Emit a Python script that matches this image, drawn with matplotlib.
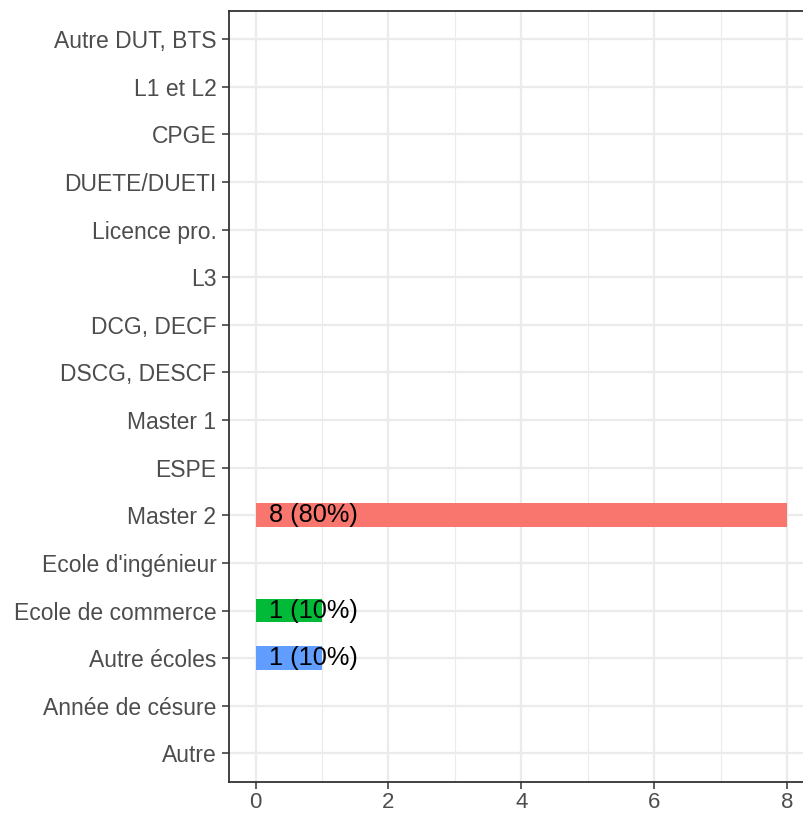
import matplotlib
matplotlib.use("Agg")
import matplotlib.pyplot as plt
import numpy as np

plt.rcParams['font.family'] = ['Liberation Sans', 'DejaVu Sans']

# categories from top to bottom
categories = ["Autre DUT, BTS", "L1 et L2", "CPGE", "DUETE/DUETI", "Licence pro.",
              "L3", "DCG, DECF", "DSCG, DESCF", "Master 1", "ESPE", "Master 2",
              "Ecole d'ingénieur", "Ecole de commerce", "Autre écoles",
              "Année de césure", "Autre"]
counts = [0, 0, 0, 0, 0, 0, 0, 0, 0, 0, 8, 0, 1, 1, 0, 0]
labels = ["", "", "", "", "", "", "", "", "", "", "8 (80%)", "", "1 (10%)", "1 (10%)", "", ""]
bar_colors = {"Master 2": "#F8766D", "Ecole de commerce": "#00BA38", "Autre écoles": "#619CFF"}

fig = plt.figure(figsize=(8.04, 8.14), dpi=100)
W, H = 804, 814
ax = fig.add_axes([229 / W, 1 - 782 / H, (813.6 - 229) / W, (782 - 10.5) / H])

n = len(categories)
ypos = np.arange(n)[::-1]

ax.set_xlim(-0.4, 8.4)
ax.set_ylim(-0.6, n - 1 + 0.6)

# grid
for x in np.arange(0, 9, 2):
    ax.axvline(x, color="#EBEBEB", lw=1.6, zorder=0)
for x in np.arange(1, 9, 2):
    ax.axvline(x, color="#EBEBEB", lw=0.8, zorder=0)
for y in ypos:
    ax.axhline(y, color="#EBEBEB", lw=1.6, zorder=0)

for cat, c, lab, y in zip(categories, counts, labels, ypos):
    if c > 0:
        ax.barh(y, c, height=0.5, color=bar_colors[cat], zorder=2)
        ax.text(0.2, y, lab, ha="left", va="center", fontsize=18.3, color="black", zorder=3)

ax.set_yticks(ypos)
ax.set_yticklabels(categories)
ax.set_xticks(np.arange(0, 9, 2))
ax.tick_params(axis="both", colors="#333333", labelcolor="#4D4D4D", labelsize=16.5,
               length=5, width=1.1)
ax.tick_params(axis="y", pad=4)
ax.tick_params(axis="x", pad=2, labelsize=16)

for side in ["left", "bottom", "top"]:
    ax.spines[side].set_color("#333333")
    ax.spines[side].set_linewidth(1.3)
ax.spines["right"].set_visible(False)

fig.savefig("out.png", dpi=100)
